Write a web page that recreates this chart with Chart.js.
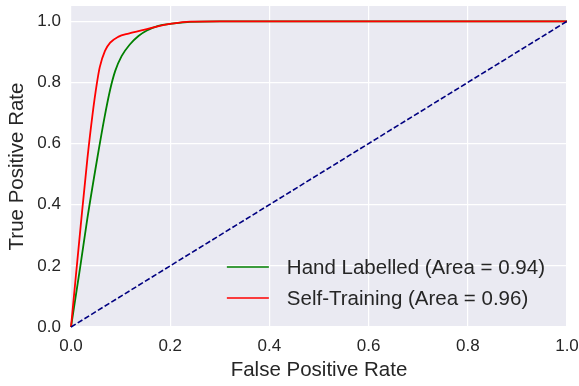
<!DOCTYPE html>
<html>
<head>
<meta charset="utf-8">
<script src="https://cdn.jsdelivr.net/npm/chart.js@4.4.0/dist/chart.umd.min.js"></script>
<style>
  html, body { margin: 0; padding: 0; background: #ffffff; }
  #wrap { width: 579px; height: 386px; }
</style>
</head>
<body>
<div id="wrap"><canvas id="roc" width="579" height="386"></canvas></div>
<script>
// ROC curves, values
const fprHand = [0, 0.018, 0.033, 0.053, 0.067, 0.079, 0.089, 0.102, 0.119, 0.136, 0.153, 0.176, 0.203, 0.240, 0.300, 1.0];
const tprHand = [0, 0.190, 0.355, 0.552, 0.681, 0.777, 0.837, 0.886, 0.925, 0.952, 0.970, 0.985, 0.992, 0.998, 1.000, 1.0];

const fprSelf = [0, 0.010, 0.0195, 0.033, 0.043, 0.052, 0.058, 0.0685, 0.079, 0.095, 0.116, 0.142, 0.169, 0.203, 0.240, 0.300, 1.0];
const tprSelf = [0, 0.170, 0.330, 0.550, 0.690, 0.795, 0.850, 0.903, 0.930, 0.949, 0.960, 0.970, 0.981, 0.992, 0.999, 1.000, 1.0];

// chance line
const diagX = [0, 1];
const diagY = [0, 1];

const xTicks = [0, 0.2, 0.4, 0.6, 0.8, 1.0];
const yTicks = [0, 0.2, 0.4, 0.6, 0.8, 1.0];
const seriesLabels = ['Hand Labelled (Area = 0.94)', 'Self-Training (Area = 0.96)'];

const FONT = "'Liberation Sans', Arial, sans-serif";
const TEXT = '#262626';

function toPoints(xs, ys) {
    return xs.map((x, i) => ({ x: x, y: ys[i] }));
}

// grey plot background (seaborn darkgrid look)
const plotBackground = {
    id: 'plotBackground',
    beforeDraw(chart) {
        const { ctx, chartArea } = chart;
        ctx.save();
        ctx.fillStyle = '#EAEAF2';
        ctx.fillRect(chartArea.left, chartArea.top, chartArea.right - chartArea.left, chartArea.bottom - chartArea.top);
        ctx.restore();
    }
};

// legend without frame in the lower right corner
const lowerRightLegend = {
    id: 'lowerRightLegend',
    afterDraw(chart) {
        const { ctx, chartArea } = chart;
        const items = chart.data.datasets.filter(ds => ds.inLegend);
        items.sort((a, b) => a.legendIndex - b.legendIndex);

        ctx.save();
        ctx.font = '20.5px ' + FONT;
        const maxW = Math.max(...items.map(ds => ctx.measureText(ds.label).width));
        const textX = chartArea.right - 22 - maxW;
        const lineX0 = textX - 60;
        const lineX1 = lineX0 + 42;
        const rowGap = 31;
        let y = chartArea.bottom - 29 - rowGap * (items.length - 1);

        items.forEach(ds => {
            ctx.strokeStyle = ds.borderColor;
            ctx.lineWidth = 1.5;
            ctx.beginPath();
            ctx.moveTo(lineX0, y);
            ctx.lineTo(lineX1, y);
            ctx.stroke();

            ctx.fillStyle = TEXT;
            ctx.textBaseline = 'middle';
            ctx.textAlign = 'left';
            ctx.fillText(ds.label, textX, y + 1);
            y += rowGap;
        });
        ctx.restore();
    }
};

const ctx = document.getElementById('roc').getContext('2d');
const rocChart = new Chart(ctx, {
    type: 'scatter',
    data: {
        datasets: [
            {
                label: seriesLabels[0],
                data: toPoints(fprHand, tprHand),
                borderColor: '#008000',
                borderWidth: 1.8,
                showLine: true,
                pointRadius: 0,
                cubicInterpolationMode: 'monotone',
                order: 3,
                inLegend: true,
                legendIndex: 0
            },
            {
                label: seriesLabels[1],
                data: toPoints(fprSelf, tprSelf),
                borderColor: '#ff0000',
                borderWidth: 1.8,
                showLine: true,
                pointRadius: 0,
                cubicInterpolationMode: 'monotone',
                order: 2,
                inLegend: true,
                legendIndex: 1
            },
            {
                label: 'chance',
                data: toPoints(diagX, diagY),
                borderColor: '#000080',
                borderWidth: 1.6,
                borderDash: [5.5, 2.4],
                showLine: true,
                pointRadius: 0,
                order: 1
            }
        ]
    },
    options: {
        responsive: false,
        animation: false,
        events: [],
        clip: false,
        layout: {
            padding: { top: 6, right: 12, left: 0, bottom: 0 }
        },
        plugins: {
            legend: { display: false },
            tooltip: { enabled: false }
        },
        scales: {
            x: {
                type: 'linear',
                min: 0,
                max: 1,
                border: { display: false },
                grid: { color: '#ffffff', lineWidth: 1.2, drawTicks: false },
                afterBuildTicks: scale => { scale.ticks = xTicks.map(v => ({ value: v })); },
                afterFit: scale => {
                    scale.height = 59;
                    scale.paddingLeft = 0;
                    scale.paddingRight = 0;
                },
                ticks: {
                    padding: 9,
                    color: TEXT,
                    font: { family: FONT, size: 17 },
                    callback: v => v.toFixed(1)
                },
                title: {
                    display: true,
                    text: 'False Positive Rate',
                    color: TEXT,
                    font: { family: FONT, size: 20.5 },
                    padding: { top: 0, bottom: 3 }
                }
            },
            y: {
                type: 'linear',
                min: 0,
                max: 1.05,
                border: { display: false },
                grid: { color: '#ffffff', lineWidth: 1.2, drawTicks: false },
                afterBuildTicks: scale => { scale.ticks = yTicks.map(v => ({ value: v })); },
                afterFit: scale => {
                    scale.width = 71;
                    scale.paddingTop = 0;
                    scale.paddingBottom = 0;
                },
                ticks: {
                    padding: 10,
                    color: TEXT,
                    font: { family: FONT, size: 17 },
                    callback: v => v.toFixed(1)
                },
                title: {
                    display: true,
                    text: 'True Positive Rate',
                    color: TEXT,
                    font: { family: FONT, size: 20.5 },
                    padding: { top: 5, bottom: 0 }
                }
            }
        }
    },
    plugins: [plotBackground, lowerRightLegend]
});
</script>
</body>
</html>
